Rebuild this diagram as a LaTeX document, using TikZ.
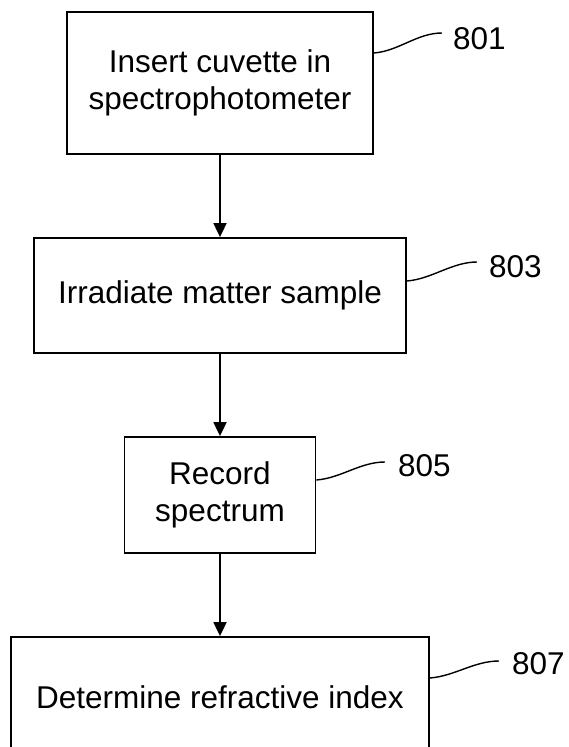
\documentclass[tikz,border=0pt]{standalone}
\usepackage{fontspec}
\setmainfont{Liberation Sans}
\usetikzlibrary{arrows.meta, positioning, calc}

\begin{document}
\begin{tikzpicture}[x=1pt, y=-1pt,
    stepbox/.style={draw=black, line width=1.8pt, align=center, inner sep=0pt,
        font=\fontsize{31.5}{37}\selectfont},
    flow/.style={line width=1.8pt, -{Triangle[length=14pt, width=13pt]}},
    leader/.style={line width=1.4pt},
    refnum/.style={anchor=west, inner sep=0pt, font=\fontsize{31.5}{37}\selectfont}]
    \useasboundingbox (0,0) rectangle (568,747);

    % steps
    \node[stepbox, minimum width=306pt, minimum height=142pt] (b801) at (220,83) {Insert cuvette in\\spectrophotometer};
    \node[stepbox, minimum width=372pt, minimum height=115pt] (b803) at (220,295.5) {Irradiate matter sample};
    \node[stepbox, minimum width=191pt, minimum height=116pt] (b805) at (220,495) {Record\\spectrum};
    \node[stepbox, minimum width=418pt, minimum height=120pt] (b807) at (220,697) {Determine refractive index};

    \draw[flow] (b801) -- (b803);
    \draw[flow] (b803) -- (b805);
    \draw[flow] (b805) -- (b807);

    % reference numerals
    \node[refnum] (r801) at (453,39) {801};
    \node[refnum] (r803) at (489,267) {803};
    \node[refnum] (r805) at (398,466) {805};
    \node[refnum] (r807) at (512,664) {807};

    \coordinate (e801) at (442,33);
    \coordinate (e803) at (477,262);
    \coordinate (e805) at (385,462);
    \coordinate (e807) at (499,661);

    \draw[leader] ([yshift=30pt]b801.east) .. controls +(25,-2) and +(-25,0) .. (e801);
    \draw[leader] ([yshift=14.5pt]b803.east) .. controls +(25,-2) and +(-25,0) .. (e803);
    \draw[leader] ([yshift=15pt]b805.east) .. controls +(25,-2) and +(-25,0) .. (e805);
    \draw[leader] ([yshift=19pt]b807.east) .. controls +(25,-2) and +(-25,0) .. (e807);
\end{tikzpicture}
\end{document}
